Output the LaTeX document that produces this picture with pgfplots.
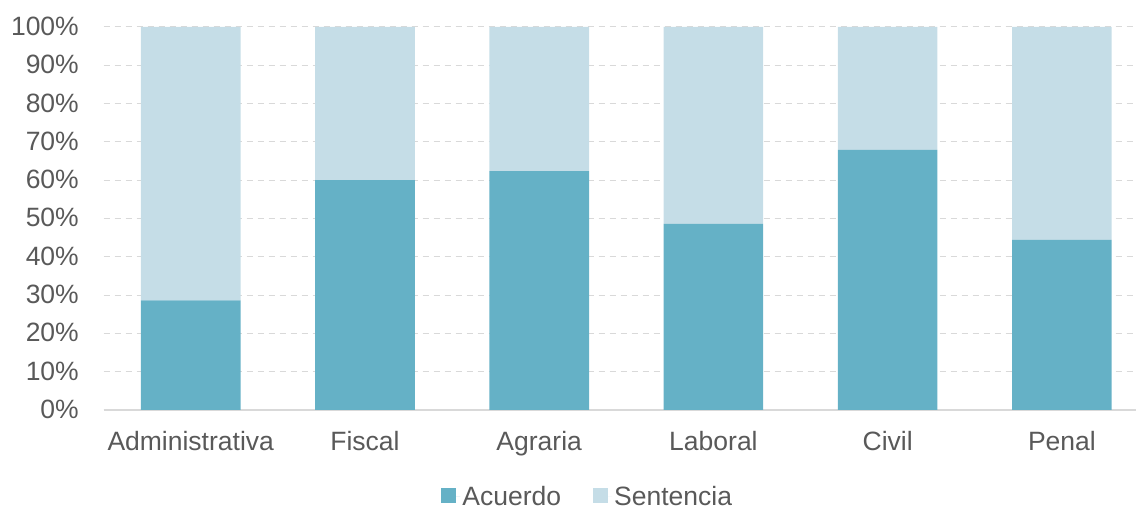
\documentclass[border=0pt]{standalone}
\usepackage{pgfplots}
\pgfplotsset{compat=1.18}
\usepackage{fontspec}
\setmainfont{Liberation Sans}
\definecolor{acuerdo}{HTML}{65B1C6}
\definecolor{sentencia}{HTML}{C5DDE7}
\definecolor{txt}{HTML}{595959}
\definecolor{gridc}{HTML}{D9D9D9}
\begin{document}
\begin{tikzpicture}
\useasboundingbox (-103.6pt,-100pt) rectangle (1034.4pt,410pt);
\begin{axis}[
  at={(0,0)}, anchor=south west,
  scale only axis,
  width=1032.4pt, height=383pt,
  xmin=-0.5, xmax=5.425,
  ymin=0, ymax=100,
  ybar stacked,
  bar width=99.6pt,
  xtick={0,1,2,3,4,5},
  xticklabels={Administrativa,Fiscal,Agraria,Laboral,Civil,Penal},
  ytick={0,10,...,100},
  yticklabel={\pgfmathprintnumber{\tick}\%},
  /pgf/number format/assume math mode=true,
  font=\fontsize{26.5}{30}\selectfont,
  tick label style={font=\fontsize{26.5}{30}\selectfont, text=txt, inner sep=0pt},
  yticklabel style={anchor=base east, xshift=-24.6pt, yshift=-8.5pt},
  xticklabel style={anchor=base, yshift=-40.7pt},
  major tick length=0pt,
  axis line style={draw=none},
  axis x line*=bottom,
  axis y line*=left,
  ymajorgrids,
  grid style={gridc, line width=1pt, dash pattern=on 6pt off 5pt},
  legend style={at={(0.469,-0.227)}, anchor=center, draw=none, fill=none,
    legend columns=2, text=txt, font=\fontsize{26.5}{30}\selectfont,
    /tikz/every even column/.append style={column sep=30pt}},
  legend image code/.code={\path (0pt,0pt) -- (19pt,0pt);\fill[#1, draw=none] (0pt,-6pt) rectangle (15pt,9pt);},
  clip=false,
]
\addplot[fill=acuerdo, draw=none] coordinates {(0,28.6) (1,60.0) (2,62.4) (3,48.6) (4,67.9) (5,44.4)};
\addplot[fill=sentencia, draw=none] coordinates {(0,71.4) (1,40.0) (2,37.6) (3,51.4) (4,32.1) (5,55.6)};
\legend{Acuerdo,Sentencia}
\draw[gridc, line width=1.5pt] (rel axis cs:0,0) -- (rel axis cs:1,0);
\end{axis}
\end{tikzpicture}
\end{document}
